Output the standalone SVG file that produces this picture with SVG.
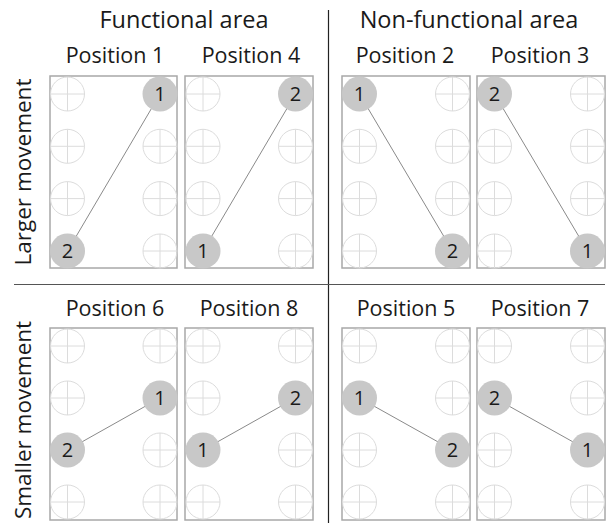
<svg xmlns="http://www.w3.org/2000/svg" xmlns:xlink="http://www.w3.org/1999/xlink" width="607" height="523" viewBox="0 0 607 523">
<style>
text{font-family:"Open Sans","Noto Sans",sans-serif;fill:#1a1a1a}
.title{font-size:23.5px;text-anchor:middle}
.pos{font-size:21.5px;text-anchor:middle}
.side{font-size:22.5px;text-anchor:middle}
.num{font-size:20px;text-anchor:middle}
.frame{fill:none;stroke:#a8a8a8;stroke-width:1.5}
.xc{fill:none;stroke:#dcdcdc;stroke-width:1}
.dot{fill:#c8c8c8}
.conn{stroke:#8a8a8a;stroke-width:1;fill:none}
</style>
<defs>
<g id="xh">
<circle class="xc" r="17"/>
<line class="xc" x1="-17" y1="0" x2="17" y2="0"/>
<line class="xc" x1="0" y1="-17" x2="0" y2="17"/>
</g>
</defs>
<g id="headings">
<text class="title" x="184" y="28">Functional area</text>
<text class="title" x="469" y="28">Non-functional area</text>
<text class="side" transform="translate(31,172) rotate(-90)">Larger movement</text>
<text class="side" transform="translate(31,420) rotate(-90)">Smaller movement</text>
</g>
<g id="dividers">
<line x1="328.5" y1="10" x2="328.5" y2="523" stroke="#222" stroke-width="1.2"/>
<line x1="14" y1="284.5" x2="605" y2="284.5" stroke="#555" stroke-width="1.2"/>
</g>
<g id="panel-p1">
<text class="pos" x="115" y="63">Position 1</text>
<rect class="frame" x="50" y="76" width="127" height="192"/>
<use xlink:href="#xh" x="67.5" y="94"/><use xlink:href="#xh" x="67.5" y="146.3"/><use xlink:href="#xh" x="67.5" y="198.6"/>
<use xlink:href="#xh" x="160" y="146.3"/><use xlink:href="#xh" x="160" y="198.6"/><use xlink:href="#xh" x="160" y="251"/>
</g>
<g id="panel-p4">
<text class="pos" x="251" y="63">Position 4</text>
<rect class="frame" x="185" y="76" width="128" height="192"/>
<use xlink:href="#xh" x="203" y="94"/><use xlink:href="#xh" x="203" y="146.3"/><use xlink:href="#xh" x="203" y="198.6"/>
<use xlink:href="#xh" x="295.5" y="146.3"/><use xlink:href="#xh" x="295.5" y="198.6"/><use xlink:href="#xh" x="295.5" y="251"/>
</g>
<g id="panel-p2">
<text class="pos" x="405" y="63">Position 2</text>
<rect class="frame" x="342" y="76" width="128" height="192"/>
<use xlink:href="#xh" x="359.5" y="146.3"/><use xlink:href="#xh" x="359.5" y="198.6"/><use xlink:href="#xh" x="359.5" y="251"/>
<use xlink:href="#xh" x="452.5" y="94"/><use xlink:href="#xh" x="452.5" y="146.3"/><use xlink:href="#xh" x="452.5" y="198.6"/>
</g>
<g id="panel-p3">
<text class="pos" x="540" y="63">Position 3</text>
<rect class="frame" x="477" y="76" width="128" height="192"/>
<use xlink:href="#xh" x="494.5" y="146.3"/><use xlink:href="#xh" x="494.5" y="198.6"/><use xlink:href="#xh" x="494.5" y="251"/>
<use xlink:href="#xh" x="587.5" y="94"/><use xlink:href="#xh" x="587.5" y="146.3"/><use xlink:href="#xh" x="587.5" y="198.6"/>
</g>
<g id="panel-p6">
<text class="pos" x="115" y="316">Position 6</text>
<rect class="frame" x="50" y="328" width="127" height="192"/>
<use xlink:href="#xh" x="67.5" y="346"/><use xlink:href="#xh" x="67.5" y="398"/><use xlink:href="#xh" x="67.5" y="502"/>
<use xlink:href="#xh" x="160" y="346"/><use xlink:href="#xh" x="160" y="450"/><use xlink:href="#xh" x="160" y="502"/>
</g>
<g id="panel-p8">
<text class="pos" x="249" y="316">Position 8</text>
<rect class="frame" x="185" y="328" width="128" height="192"/>
<use xlink:href="#xh" x="203" y="346"/><use xlink:href="#xh" x="203" y="398"/><use xlink:href="#xh" x="203" y="502"/>
<use xlink:href="#xh" x="295.5" y="346"/><use xlink:href="#xh" x="295.5" y="450"/><use xlink:href="#xh" x="295.5" y="502"/>
</g>
<g id="panel-p5">
<text class="pos" x="406" y="316">Position 5</text>
<rect class="frame" x="342" y="328" width="128" height="192"/>
<use xlink:href="#xh" x="359.5" y="346"/><use xlink:href="#xh" x="359.5" y="450"/><use xlink:href="#xh" x="359.5" y="502"/>
<use xlink:href="#xh" x="452.5" y="346"/><use xlink:href="#xh" x="452.5" y="398"/><use xlink:href="#xh" x="452.5" y="502"/>
</g>
<g id="panel-p7">
<text class="pos" x="540" y="316">Position 7</text>
<rect class="frame" x="477" y="328" width="128" height="192"/>
<use xlink:href="#xh" x="494.5" y="346"/><use xlink:href="#xh" x="494.5" y="450"/><use xlink:href="#xh" x="494.5" y="502"/>
<use xlink:href="#xh" x="587.5" y="346"/><use xlink:href="#xh" x="587.5" y="398"/><use xlink:href="#xh" x="587.5" y="502"/>
</g>
<g id="connectors">
<line class="conn" x1="160" y1="94" x2="67.5" y2="251"/>
<line class="conn" x1="295.5" y1="94" x2="203" y2="251"/>
<line class="conn" x1="359.5" y1="94" x2="452.5" y2="251"/>
<line class="conn" x1="494.5" y1="94" x2="587.5" y2="251"/>
<line class="conn" x1="160" y1="398" x2="67.5" y2="450"/>
<line class="conn" x1="295.5" y1="398" x2="203" y2="450"/>
<line class="conn" x1="359.5" y1="398" x2="452.5" y2="450"/>
<line class="conn" x1="494.5" y1="398" x2="587.5" y2="450"/>
</g>
<g id="node-p1-1"><circle class="dot" cx="160" cy="94" r="17.5"/><text class="num" x="160" y="101">1</text></g>
<g id="node-p1-2"><circle class="dot" cx="67.5" cy="251" r="17.5"/><text class="num" x="67.5" y="258">2</text></g>
<g id="node-p4-2"><circle class="dot" cx="295.5" cy="94" r="17.5"/><text class="num" x="295.5" y="101">2</text></g>
<g id="node-p4-1"><circle class="dot" cx="203" cy="251" r="17.5"/><text class="num" x="203" y="258">1</text></g>
<g id="node-p2-1"><circle class="dot" cx="359.5" cy="94" r="17.5"/><text class="num" x="359.5" y="101">1</text></g>
<g id="node-p2-2"><circle class="dot" cx="452.5" cy="251" r="17.5"/><text class="num" x="452.5" y="258">2</text></g>
<g id="node-p3-2"><circle class="dot" cx="494.5" cy="94" r="17.5"/><text class="num" x="494.5" y="101">2</text></g>
<g id="node-p3-1"><circle class="dot" cx="587.5" cy="251" r="17.5"/><text class="num" x="587.5" y="258">1</text></g>
<g id="node-p6-1"><circle class="dot" cx="160" cy="398" r="17.5"/><text class="num" x="160" y="405">1</text></g>
<g id="node-p6-2"><circle class="dot" cx="67.5" cy="450" r="17.5"/><text class="num" x="67.5" y="457">2</text></g>
<g id="node-p8-2"><circle class="dot" cx="295.5" cy="398" r="17.5"/><text class="num" x="295.5" y="405">2</text></g>
<g id="node-p8-1"><circle class="dot" cx="203" cy="450" r="17.5"/><text class="num" x="203" y="457">1</text></g>
<g id="node-p5-1"><circle class="dot" cx="359.5" cy="398" r="17.5"/><text class="num" x="359.5" y="405">1</text></g>
<g id="node-p5-2"><circle class="dot" cx="452.5" cy="450" r="17.5"/><text class="num" x="452.5" y="457">2</text></g>
<g id="node-p7-2"><circle class="dot" cx="494.5" cy="398" r="17.5"/><text class="num" x="494.5" y="405">2</text></g>
<g id="node-p7-1"><circle class="dot" cx="587.5" cy="450" r="17.5"/><text class="num" x="587.5" y="457">1</text></g>
</svg>
